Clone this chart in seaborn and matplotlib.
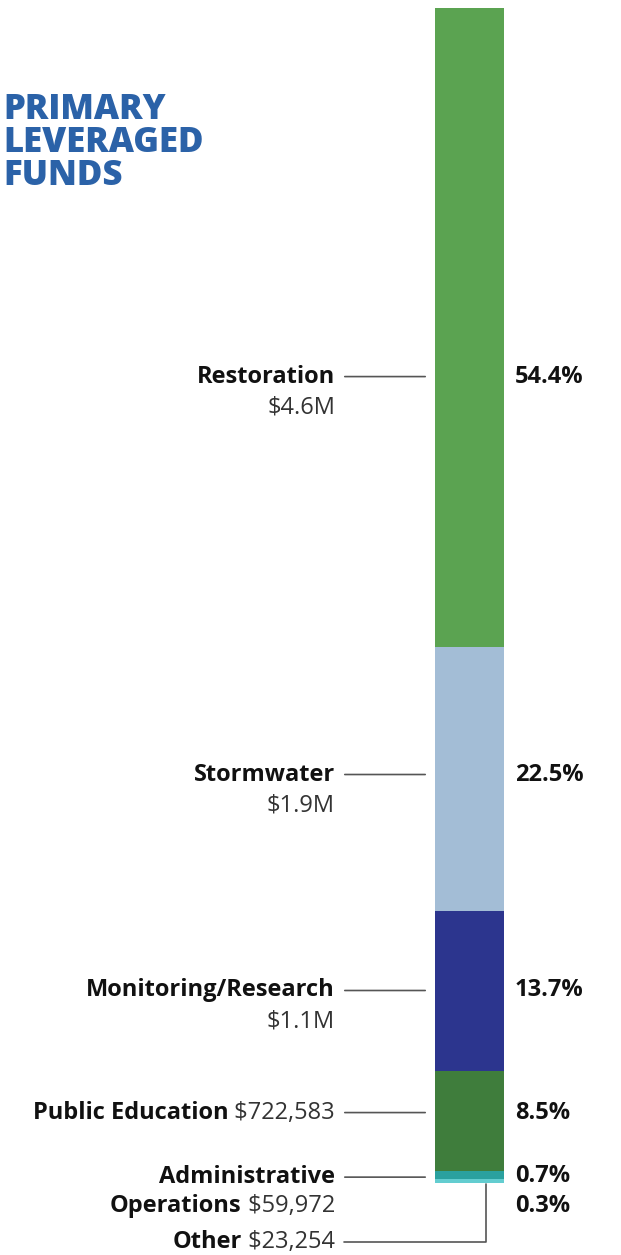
import matplotlib
matplotlib.use("Agg")
import matplotlib.pyplot as plt
import matplotlib.transforms as mtransforms
import seaborn as sns
import numpy as np
import pandas as pd

# dane
categories = ["Restoration", "Stormwater", "Monitoring/Research", "Public Education",
              "Administrative Operations", "Other"]
amounts = ["$4.6M", "$1.9M", "$1.1M", "$722,583", "$59,972", "$23,254"]
shares = [54.4, 22.5, 13.7, 8.5, 0.7, 0.3]
colors = ["#5ba351", "#a3bdd6", "#2c358e", "#3f7d3c", "#2aa19f", "#63cdd0"]

sns.set_theme(style="white")
plt.rcParams["font.family"] = ["Open Sans", "DejaVu Sans"]

W, H = 621, 1255
fig = plt.figure(figsize=(W / 100, H / 100), dpi=100)

# slupek: od gory 8 px do 1183 px
ax = fig.add_axes([435 / W, 1 - 1183 / H, 69 / W, 1175 / H])
cum = np.cumsum(shares)
df = pd.DataFrame({"cat": categories, "cum": cum, "col": colors})
# rysujemy od najdluzszego, kazdy kolejny przykrywa poprzedni
for i in range(len(df) - 1, -1, -1):
    sns.barplot(x=[0], y=[df["cum"][i]], color=df["col"][i], width=1.0,
                saturation=1, ax=ax, linewidth=0)
ax.set_ylim(cum[-1], 0)
ax.set_xlim(-0.5, 0.5)
ax.axis("off")

# tytul (jeden tekst, trzy linie; baseline = ostatnia linia)
fig.text(3 / W, 1 - 185 / H, "PRIMARY\nLEVERAGED\nFUNDS", color="#2b62a8", fontsize=25,
         fontweight="heavy", ha="left", va="baseline", linespacing=0.88)

tr = mtransforms.blended_transform_factory(fig.transFigure, ax.transData)
renderer = fig.canvas.get_renderer()

# pozycje linii prowadzacych (w % od gory slupka)
lead_y = [31.4, 65.3, 83.7, 94.1, 99.6]
pct_y = [31.4, 65.3, 83.7, 94.1, 99.5, 102.1]
text_x = 335 / W
line_col = "#555555"
fs = 17

def right_text(x, y, parts, va="center"):
    # parts: lista (tekst, waga) od prawej
    xr = x
    for txt, wt in reversed(parts):
        col = "#111111" if wt == "bold" else "#333333"
        t = fig.text(xr, 0, txt, fontsize=fs, fontweight=wt, ha="right", va=va,
                     color=col, transform=tr)
        t.set_y(y)
        bb = t.get_window_extent(renderer)
        xr = xr - bb.width / W

def leader(y, x0=342):
    ax.annotate("", xy=(428 / W, y), xytext=(x0 / W, y), xycoords=tr, textcoords=tr,
                arrowprops=dict(arrowstyle="-", color=line_col, lw=1.2))

# Restoration, Stormwater, Monitoring: nazwa + kwota ponizej
for i in range(3):
    y = lead_y[i]
    right_text(text_x, y, [(categories[i], "bold")])
    leader(y)
    right_text(text_x, y + 2.65, [(amounts[i], "normal")])

# Public Education w jednej linii
y = lead_y[3]
right_text(text_x, y, [(categories[3], "bold"), (" " + amounts[3], "normal")])
leader(y)

# Administrative Operations w dwoch liniach
y = lead_y[4]
right_text(text_x, y, [("Administrative", "bold")])
leader(y)
right_text(text_x, y + 2.5, [("Operations", "bold"), (" " + amounts[4], "normal")])

# Other - linia z dolu slupka
y_other = 105.1
right_text(text_x, y_other, [(categories[5], "bold"), (" " + amounts[5], "normal")])
x_vert = 486 / W
ax.plot([x_vert, x_vert, 344 / W], [cum[-1] + 0.1, y_other, y_other], color=line_col,
        lw=1.2, transform=tr, clip_on=False)

# procenty
for i, s in enumerate(shares):
    fig.text(515 / W, 0, f"{s}%", fontsize=fs, fontweight="bold", ha="left",
             va="center", color="#111111", transform=tr).set_y(pct_y[i])

fig.savefig("out.png", dpi=100, facecolor="white")
